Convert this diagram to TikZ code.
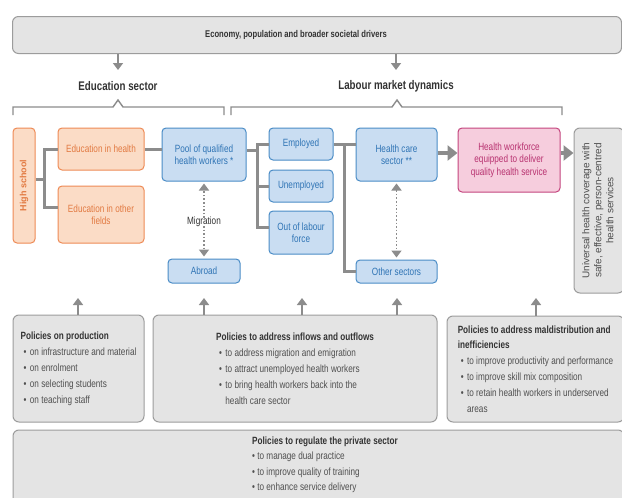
\documentclass[tikz,border=0pt]{standalone}
\usepackage{fontspec}
\setmainfont{Liberation Sans}
\newfontfamily\cnd[FakeStretch=0.78]{Liberation Sans}
\usetikzlibrary{arrows.meta,calc}
\definecolor{orF}{HTML}{FBDCC6}
\definecolor{orB}{HTML}{EE8A55}
\definecolor{orT}{HTML}{E27A42}
\definecolor{blF}{HTML}{C9DDF2}
\definecolor{blB}{HTML}{4A8CC6}
\definecolor{blT}{HTML}{2F74B5}
\definecolor{pkF}{HTML}{F6CDDD}
\definecolor{pkB}{HTML}{C4457E}
\definecolor{pkT}{HTML}{B83270}
\definecolor{grF}{HTML}{E4E4E4}
\definecolor{grB}{HTML}{9C9C9C}
\definecolor{txD}{HTML}{333333}
\definecolor{txM}{HTML}{505050}
\definecolor{cn}{HTML}{8C8C8C}
\newcommand{\bul}{\hspace*{3pt}•\hspace{3.5pt}}
\newcommand{\bulph}{\hspace*{3pt}\hphantom{•}\hspace{3.5pt}}
\begin{document}
\begin{tikzpicture}[x=1pt,y=-1pt,
  bx/.style={rounded corners=4pt, line width=1pt, align=center, inner sep=2pt,
    font=\cnd\fontsize{10.5}{12.5}\selectfont},
  orbox/.style={bx, draw=orB, fill=orF, text=orT},
  blbox/.style={bx, draw=blB, fill=blF, text=blT},
  pkbox/.style={bx, draw=pkB, fill=pkF, text=pkT},
  grbox/.style={bx, draw=grB, fill=grF, text=txD, rounded corners=6pt},
  ptext/.style={align=left, font=\cnd\fontsize{10.5}{16}\selectfont, text=txM},
  header/.style={inner sep=0pt, font=\cnd\bfseries\fontsize{12.5}{14}\selectfont, text=txD},
  conn/.style={draw=cn, line width=3pt},
  bigarrow/.style={draw=cn, line width=4pt, -{Triangle[length=10pt,width=15pt]}},
  smallarrow/.style={draw=cn, line width=2pt, -{Triangle[length=7pt,width=10pt]}},
  dotarrow/.style={draw=cn, line width=1.6pt, dotted, -{Triangle[length=7pt,width=10pt]}},
  bracepath/.style={draw=cn, line width=1.4pt},
]
\useasboundingbox (0,0) rectangle (622,498);
\fill[white] (0,0) rectangle (622,498);

% top box
\node[grbox, minimum width=609pt, minimum height=37pt] (top) at (317,35) {};
\node[inner sep=0pt, font=\cnd\bfseries\fontsize{9.8}{11}\selectfont, text=txD] (topt) at (296,35)
  {Economy, population and broader societal drivers};

% headers
\node[header] (edu) at (118,86) {Education sector};
\node[header] (lab) at (396,86) {Labour market dynamics};
\coordinate (ea) at (118,70);
\coordinate (la) at (396,70);
\draw[smallarrow] (top.south -| ea) -- (ea);
\draw[smallarrow] (top.south -| la) -- (la);

% braces
\draw[bracepath] (13,115) -- (13,107) -- (113,107) -- (118,100) -- (123,107) -- (224,107) -- (224,115);
\draw[bracepath] (231,115) -- (231,107) -- (392,107) -- (397,100) -- (402,107) -- (562,107) -- (562,115);

% education nodes
\node[orbox, minimum width=22pt, minimum height=115pt, inner sep=0pt] (hs) at (24,185.5)
  {\rotatebox{90}{\fontspec{Liberation Sans}\bfseries\fontsize{9}{11}\selectfont High school}};
\node[orbox, minimum width=86pt, minimum height=42pt] (eh) at (101,149) {Education in health};
\node[orbox, minimum width=86pt, minimum height=57pt] (eo) at (101,214.5) {Education in other\\fields};

% labour market nodes
\node[blbox, minimum width=84pt, minimum height=53pt] (pool) at (204,154.5) {Pool of qualified\\health workers *};
\node[blbox, minimum width=72pt, minimum height=24pt] (abroad) at (204,271) {Abroad};
\node[blbox, minimum width=64pt, minimum height=32pt] (emp) at (301,144) {Employed};
\node[blbox, minimum width=64pt, minimum height=32pt] (unemp) at (301,186) {Unemployed};
\node[blbox, minimum width=64pt, minimum height=43pt] (out) at (301,232.5) {Out of labour\\force};
\node[blbox, minimum width=81pt, minimum height=53pt] (hc) at (396.5,154.5) {Health care\\sector **};
\node[blbox, minimum width=81pt, minimum height=23pt] (other) at (396.5,271.5) {Other sectors};
\node[pkbox, minimum width=102pt, minimum height=64pt] (pink) at (509,160)
  {Health workforce\\equipped to deliver\\quality health service};
\node[grbox, minimum width=50pt, minimum height=165pt, inner sep=0pt, text=txM] (uhc) at (599,210.5)
  {\rotatebox{90}{\fontspec{Liberation Sans}\fontsize{10}{12}\selectfont
   \begin{tabular}{@{}c@{}}Universal health coverage with\\ safe, effective, person-centred\\ health services\end{tabular}}};

% connectors: education
\coordinate (hsj) at (44,179);
\draw[conn] (hsj -| hs.east) -- (hsj);
\draw[conn] (eh.west) -| (hsj);
\draw[conn] ([yshift=7.5pt]eo.west) -| (hsj);
\draw[conn] (eh.east) -- (eh.east -| pool.west);

% pool to employment states
\coordinate (pj) at (257,150);
\draw[conn] ([yshift=4.5pt]pool.east) -- (pj);
\draw[conn] (emp.west) -| (pj);
\draw[conn] (pj) |- ([yshift=5pt]out.west);
\draw[conn] (unemp.west) -- (unemp.west -| pj);

% employed to sectors
\coordinate (hj) at (344,144);
\draw[conn] (emp.east) -- (emp.east -| hc.west);
\draw[conn] (hj) |- (other.west);

% big arrows
\draw[bigarrow] ([yshift=1.5pt]hc.east) -- ([yshift=1.5pt]hc.east -| pink.west);
\draw[bigarrow] ([yshift=7pt]pink.east) -- ([yshift=7pt]pink.east -| uhc.west);

% migration
\node[inner sep=1pt, font=\cnd\fontsize{10.5}{12}\selectfont, text=txD] (mig) at (204,222) {Migration};
\draw[dotarrow] ([yshift=-2pt]mig.north) -- ([yshift=-2pt]pool.south);
\draw[dotarrow] ([yshift=2pt]mig.south) -- ([yshift=2pt]abroad.north);
\draw[dotarrow, {Triangle[length=7pt,width=10pt]}-{Triangle[length=7pt,width=10pt]}]
  ([yshift=-2pt]hc.south) -- ([yshift=2pt]other.north);

% policy boxes
\node[grbox, minimum width=131pt, minimum height=107pt, ptext] (p1) at (78.5,368.5)
  {\textcolor{txD}{\bfseries Policies on production}\\
   \bul on infrastructure and material\\
   \bul on enrolment\\
   \bul on selecting students\\
   \bul on teaching staff};
\node[grbox, minimum width=284pt, minimum height=107pt, ptext] (p2) at (295,368.5)
  {\textcolor{txD}{\bfseries Policies to address inflows and outflows}\\
   \bul to address migration and emigration\\
   \bul to attract unemployed health workers\\
   \bul to bring health workers back into the\\
   \bulph health care sector};
\node[grbox, minimum width=177pt, minimum height=106pt, ptext] (p3) at (535.5,369)
  {\textcolor{txD}{\bfseries Policies to address maldistribution and}\\[-0.5pt]
   \textcolor{txD}{\bfseries inefficiencies}\\
   \bul to improve productivity and performance\\
   \bul to improve skill mix composition\\
   \bul to retain health workers in underserved\\
   \bulph areas};
\node[grbox, minimum width=611pt, minimum height=76pt] (bot) at (318.5,468) {};
\node[ptext, anchor=north west, inner sep=0pt] (bott) at (252,436.5)
  {\textcolor{txD}{\bfseries Policies to regulate the private sector}\\[-0.5pt]
   • to manage dual practice\\[-0.5pt]
   • to improve quality of training\\[-0.5pt]
   • to enhance service delivery};

% up arrows
\coordinate (u1) at (78,298);
\coordinate (u2) at (204,298);
\coordinate (u3) at (302,298);
\coordinate (u4) at (397,298);
\coordinate (u5) at (536,298);
\draw[smallarrow] (u1 |- p1.north) -- (u1);
\draw[smallarrow] (u2 |- p2.north) -- (u2);
\draw[smallarrow] (u3 |- p2.north) -- (u3);
\draw[smallarrow] (u4 |- p2.north) -- (u4);
\draw[smallarrow] (u5 |- p3.north) -- (u5);
\end{tikzpicture}
\end{document}
